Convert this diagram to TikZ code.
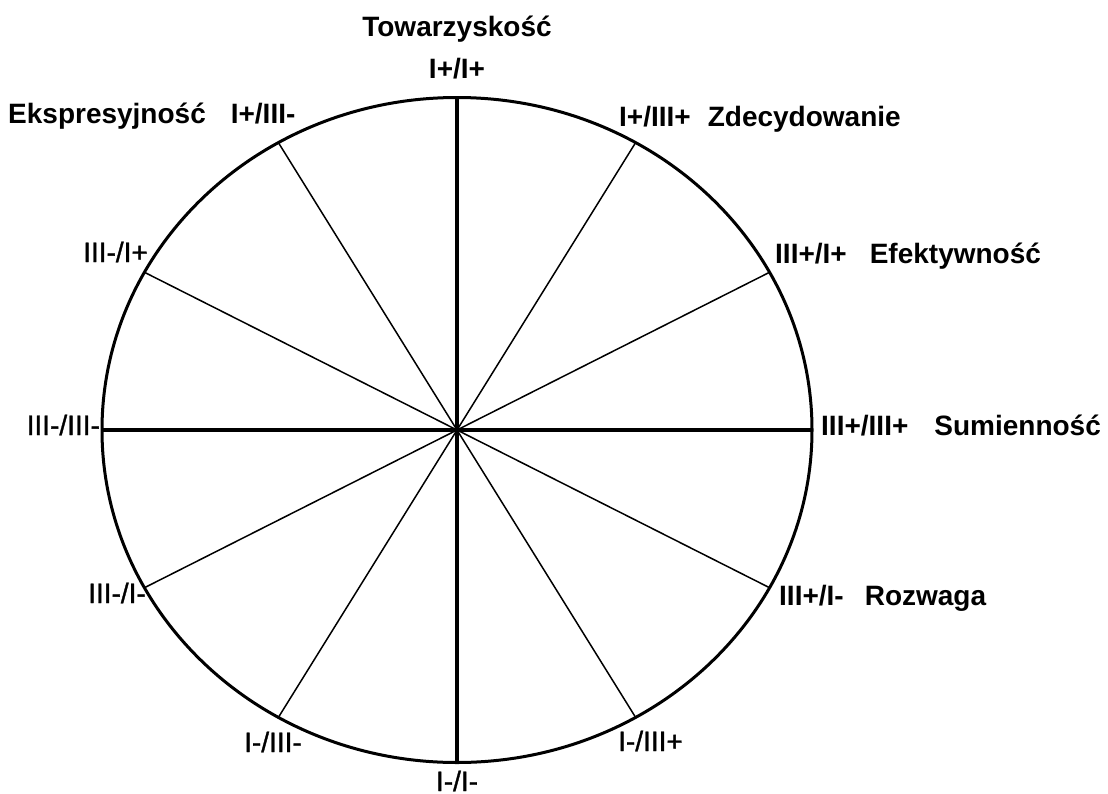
\documentclass[tikz,border=0pt]{standalone}
\usepackage{fontspec}
\setmainfont{Liberation Sans}
\newfontfamily\medfont[FakeBold=1.2]{Liberation Sans}
\begin{document}
\begin{tikzpicture}[x=1pt,y=-1pt,
  lbl/.style={inner sep=0pt,font=\medfont\fontsize{28}{32}\selectfont},
  blbl/.style={inner sep=0pt,font=\fontsize{28}{32}\selectfont\bfseries},
  thick axis/.style={line width=4pt},
  thin spoke/.style={line width=1.5pt},
  rim/.style={line width=3pt}]
\useasboundingbox (0,0) rectangle (1108,793);
\coordinate (c) at (457,430);
% rim points
\coordinate (t) at (457,97.5);
\coordinate (b) at (457,762.5);
\coordinate (l) at (102,430);
\coordinate (r) at (812,430);
\coordinate (ne60) at (636,142);
\coordinate (nw60) at (278,142);
\coordinate (se60) at (636,718);
\coordinate (sw60) at (278,718);
\coordinate (ne30) at (769.5,272.3);
\coordinate (nw30) at (144.5,272.3);
\coordinate (se30) at (769.5,587.7);
\coordinate (sw30) at (144.5,587.7);
% spokes
\draw[thin spoke] (ne60) -- (sw60);
\draw[thin spoke] (nw60) -- (se60);
\draw[thin spoke] (ne30) -- (sw30);
\draw[thin spoke] (nw30) -- (se30);
\draw[thick axis] (t) -- (b);
\draw[thick axis] (l) -- (r);
\draw[rim] (c) ellipse [x radius=355pt, y radius=332.5pt];
% labels
\node[blbl,anchor=base] (towarz) at (457,36) {Towarzyskość};
\node[blbl,anchor=base] (ipip) at (457,78) {I+/I+};
\node[blbl,anchor=base west] (ekspr) at (8,123) {Ekspresyjność\hspace{25pt}I+/III-};
\node[blbl,anchor=base west] (zdecyd) at (619,126) {I+/III+\hspace{17pt}Zdecydowanie};
\node[blbl,anchor=base west] (efekt) at (775,263) {III+/I+\hspace{23pt}Efektywność};
\node[blbl,anchor=base west] (sumien) at (821,435) {III+/III+\hspace{26pt}Sumienność};
\node[blbl,anchor=base west] (rozw) at (779,605) {III+/I-\hspace{21pt}Rozwaga};
\node[lbl,anchor=base west] (mmip) at (83,262) {III-/I+};
\node[lbl,anchor=base east] (mmmm) at (100,435) {III-/III-};
\node[lbl,anchor=base west] (mmim) at (88,603) {III-/I-};
\node[lbl,anchor=base west] (immm) at (244,752) {I-/III-};
\node[lbl,anchor=base] (imim) at (457,791) {I-/I-};
\node[lbl,anchor=base west] (impp) at (618,751) {I-/III+};
\end{tikzpicture}
\end{document}
